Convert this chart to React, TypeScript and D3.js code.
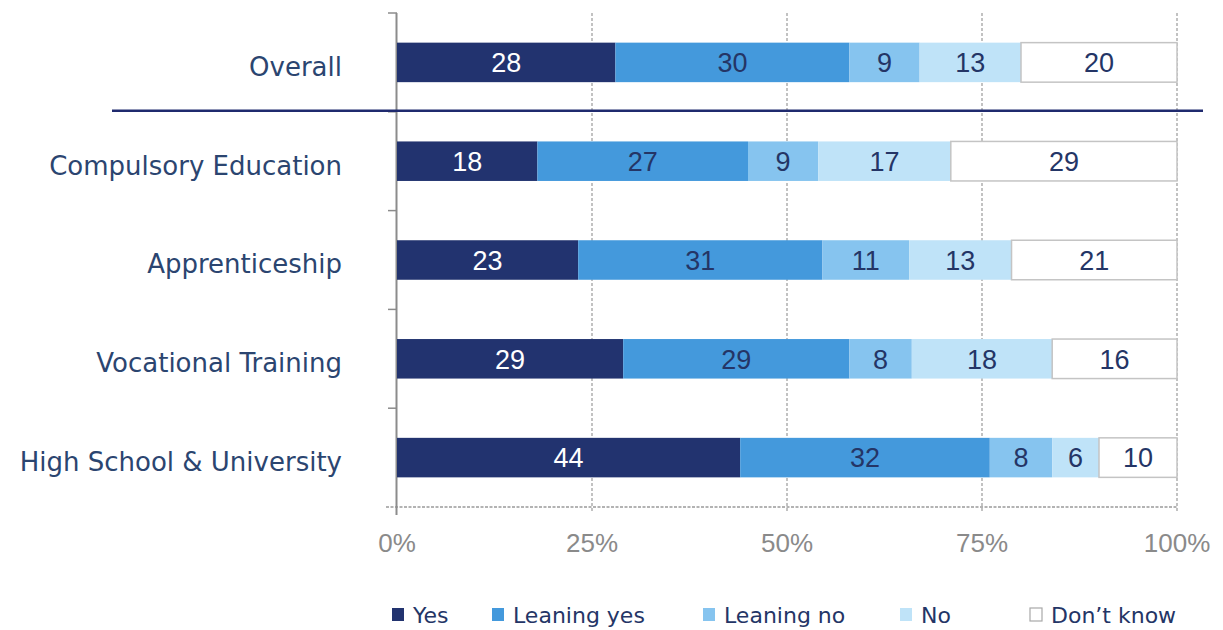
import React from "react";
import * as d3 from "d3";

const categories = ["Overall", "Compulsory Education", "Apprenticeship", "Vocational Training", "High School & University"];
const seriesNames = ["Yes", "Leaning yes", "Leaning no", "No", "Don\u2019t know"];
const yesValues = [28, 18, 23, 29, 44];
const leaningYesValues = [30, 27, 31, 29, 32];
const leaningNoValues = [9, 9, 11, 8, 8];
const noValues = [13, 17, 13, 18, 6];
const dontKnowValues = [20, 29, 21, 16, 10];
const tickValues = [0, 25, 50, 75, 100];

const seriesColors = ["#22336f", "#4499dc", "#86c4ef", "#bfe3f8", "#ffffff"];
const labelColors = ["#ffffff", "#243566", "#243566", "#243566", "#243566"];

const W = 1223;
const H = 630;
const left = 397;
const right = 1177;
const top = 13;
const bottom = 507;

export default function App() {
  const series = [yesValues, leaningYesValues, leaningNoValues, noValues, dontKnowValues];
  const x = d3.scaleLinear().domain([0, 100]).range([left, right]);
  const y = d3.scaleBand<string>().domain(categories).range([top, bottom]).paddingInner(0.6).paddingOuter(0.3);
  const step = y.step();

  const rows = categories.map((c, i) => {
    const vals = series.map((s) => s[i]);
    const total = d3.sum(vals);
    let cum = 0;
    return vals.map((v, k) => {
      const x0 = (cum / total) * 100;
      cum += v;
      const x1 = (cum / total) * 100;
      return { cat: c, k, v, x0, x1 };
    });
  });

  const boundaries = d3.range(categories.length + 1).map((i) => top + i * step);

  const legendX = [405, 505, 716, 913, 1043];

  return (
    <svg width={W} height={H} style={{ position: "absolute", left: 0, top: 0, background: "#fff" }}>
      {tickValues.slice(1).map((t) => (
        <line key={t} x1={x(t)} x2={x(t)} y1={top} y2={bottom + 4} stroke="#9a9a9a" strokeWidth={1.2} strokeDasharray="3,2" />
      ))}
      <line x1={386} x2={right} y1={bottom} y2={bottom} stroke="#9a9a9a" strokeWidth={1.5} strokeDasharray="3,1.5" />
      <line x1={left - 0.5} x2={left - 0.5} y1={top} y2={bottom + 8} stroke="#8c8c8c" strokeWidth={2} />
      {boundaries.slice(0, -1).map((b, i) => (
        <line key={i} x1={388} x2={left} y1={b} y2={b} stroke="#8c8c8c" strokeWidth={1.5} />
      ))}
      {rows.map((row) =>
        row.map((seg) => (
          <g key={seg.cat + seg.k}>
            <rect
              x={x(seg.x0)}
              y={y(seg.cat)!}
              width={x(seg.x1) - x(seg.x0)}
              height={y.bandwidth()}
              fill={seriesColors[seg.k]}
              stroke={seg.k === 4 ? "#c4c4c4" : "none"}
              strokeWidth={seg.k === 4 ? 1.5 : 0}
            />
            <text
              x={(x(seg.x0) + x(seg.x1)) / 2}
              y={y(seg.cat)! + y.bandwidth() / 2}
              dy="0.36em"
              textAnchor="middle"
              fontFamily="'Liberation Sans', Arial, sans-serif"
              fontSize={27}
              fill={labelColors[seg.k]}
            >
              {seg.v}
            </text>
          </g>
        ))
      )}
      <line x1={112} x2={1203} y1={boundaries[1] - 1} y2={boundaries[1] - 1} stroke="#1f2a6e" strokeWidth={2.5} />
      {categories.map((c) => (
        <text
          key={c}
          x={342}
          y={y(c)! + y.bandwidth() / 2 + 4}
          dy="0.36em"
          textAnchor="end"
          fontFamily="'DejaVu Sans', Verdana, sans-serif"
          fontSize={26}
          fill="#2b4570"
        >
          {c}
        </text>
      ))}
      {tickValues.map((t) => (
        <text
          key={t}
          x={x(t)}
          y={552}
          textAnchor="middle"
          fontFamily="'Liberation Sans', Arial, sans-serif"
          fontSize={26}
          fill="#8a8a8a"
        >
          {t + "%"}
        </text>
      ))}
      {seriesNames.map((n, i) => (
        <g key={n}>
          <rect
            x={legendX[i] - 13}
            y={608}
            width={12}
            height={13}
            fill={seriesColors[i]}
            stroke={i === 4 ? "#a8a8a8" : "none"}
            strokeWidth={i === 4 ? 1.2 : 0}
          />
          <text x={legendX[i] + 8} y={623} fontFamily="'DejaVu Sans', Verdana, sans-serif" fontSize={22} fill="#243566">
            {n}
          </text>
        </g>
      ))}
    </svg>
  );
}
